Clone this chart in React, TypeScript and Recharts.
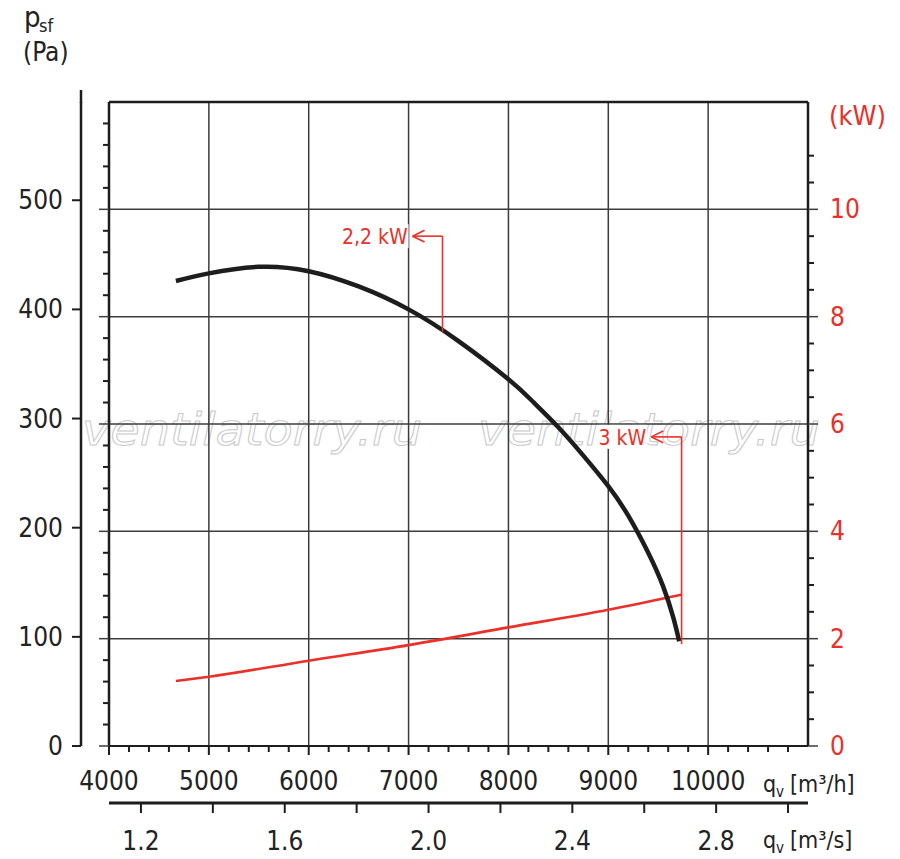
import {
  ComposedChart,
  Customized,
  Line,
  ReferenceDot,
  ReferenceLine,
  XAxis,
  YAxis,
} from 'recharts'

const FONT = '"DejaVu Sans Condensed", "DejaVu Sans", sans-serif'
const INK = '#1d1d1d'
const GRID = '#3c3c3c'
const RED = '#ea3028'

// fan curve, static pressure [Pa] over airflow [m3/h]
const pressureFlow = [
  4670, 5000, 5500, 6000, 6500, 7000, 7500, 8000, 8250, 8500, 8750, 9000, 9200, 9400, 9550, 9650, 9710,
]
const pressurePa = [426, 433, 439, 435, 421, 400, 371, 336, 315, 292, 266, 238, 211, 177, 146, 118, 96]

// absorbed power [kW]
const powerFlow = [4670, 5000, 6000, 7000, 8000, 9000, 9730]
const powerKw = [1.21, 1.29, 1.59, 1.88, 2.21, 2.54, 2.82]

// axes
const flowTicks = [
  4000, 4200, 4400, 4600, 4800, 5000, 5200, 5400, 5600, 5800, 6000, 6200, 6400, 6600, 6800,
  7000, 7200, 7400, 7600, 7800, 8000, 8200, 8400, 8600, 8800, 9000, 9200, 9400, 9600, 9800,
  10000, 10200, 10400, 10600, 10800,
]
const flowLabels = [4000, 5000, 6000, 7000, 8000, 9000, 10000]
const flowGrid = [5000, 6000, 7000, 8000, 9000, 10000]
const flowSecTicks = [1.2, 1.4, 1.6, 1.8, 2.0, 2.2, 2.4, 2.6, 2.8, 3.0]
const flowSecLabels = [1.2, 1.6, 2.0, 2.4, 2.8]
const paTicks = [0, 100, 200, 300, 400, 500]
const kwTicks = [
  0, 0.5, 1, 1.5, 2, 2.5, 3, 3.5, 4, 4.5, 5, 5.5, 6, 6.5, 7, 7.5, 8, 8.5, 9, 9.5, 10, 10.5, 11,
]
const kwLabels = [0, 2, 4, 6, 8, 10]
const kwInnerTicks = [
  0, 0.4, 0.8, 1.2, 1.6, 2, 2.4, 2.8, 3.2, 3.6, 4, 4.4, 4.8, 5.2, 5.6, 6, 6.4, 6.8, 7.2, 7.6,
  8, 8.4, 8.8, 9.2, 9.6, 10, 10.4, 10.8, 11.2, 11.6,
]
const kwGrid = [2, 4, 6, 8, 10]

// power rating marks: label, arrow tip flow, bend flow, level [kW], foot [kW]
const ratingNames = ['2,2 kW', '3 kW']
const ratingTip = [7040, 9430]
const ratingBend = [7340, 9734]
const ratingLevel = [9.5, 5.76]
const ratingFoot = [7.72, 1.9]

const M3H_PER_M3S = 3600

const pressureData = pressureFlow.map((q, i) => ({ q, s: q / M3H_PER_M3S, p: pressurePa[i] }))
const powerData = powerFlow.map((q, i) => ({ q, kw: powerKw[i] }))

const near = (a: number, b: number) => Math.abs(a - b) < 1e-6

function PaTick({ x, y, payload }: any) {
  return (
    <g>
      <line x1={x - 9} x2={x} y1={y} y2={y} stroke={INK} strokeWidth={2} />
      <text x={x - 18} y={y} textAnchor="end" dominantBaseline="central" fontFamily={FONT} fontSize={26} fill="#222">
        {payload.value}
      </text>
    </g>
  )
}

function InnerTick({ x, y, payload }: any) {
  const major = kwGrid.some((v) => near(v, payload.value)) || payload.value === 0
  return <line x1={x - (major ? 10 : 6)} x2={x} y1={y} y2={y} stroke={major ? GRID : INK} strokeWidth={major ? 1.5 : 2} />
}

function KwTick({ x, y, payload }: any) {
  const label = kwLabels.some((v) => near(v, payload.value))
  return (
    <g>
      <line x1={x} x2={x + (label ? 10 : 6)} y1={y} y2={y} stroke={label ? GRID : INK} strokeWidth={label ? 1.5 : 2} />
      {label && (
        <text x={x + 22} y={y} dominantBaseline="central" fontFamily={FONT} fontSize={26} fill={RED}>
          {payload.value}
        </text>
      )}
    </g>
  )
}

function FlowTick({ x, y, payload }: any) {
  const label = flowLabels.includes(payload.value)
  return (
    <g>
      <line x1={x} x2={x} y1={y} y2={y + (label ? 9 : 6)} stroke={INK} strokeWidth={2} />
      {label && (
        <text x={x} y={y + 35} textAnchor="middle" dominantBaseline="central" fontFamily={FONT} fontSize={26} fill="#222">
          {payload.value}
        </text>
      )}
    </g>
  )
}

function FlowSecTick({ x, y, payload }: any) {
  const label = flowSecLabels.some((v) => near(v, payload.value))
  return (
    <g>
      <line x1={x} x2={x} y1={y} y2={y + 10} stroke={INK} strokeWidth={2} />
      {label && (
        <text x={x} y={y + 38} textAnchor="middle" dominantBaseline="central" fontFamily={FONT} fontSize={26} fill="#222">
          {payload.value.toFixed(1)}
        </text>
      )}
    </g>
  )
}

function RatingLabel({ cx, cy, text }: any) {
  const w = text.length * 11.5
  return (
    <g>
      <rect x={cx - w - 6} y={cy - 12} width={w + 2} height={24} fill="#fff" />
      <text x={cx - 5} y={cy + 1} textAnchor="end" dominantBaseline="central" fontFamily={FONT} fontSize={21} fill={RED}>
        {text}
      </text>
    </g>
  )
}

function Titles() {
  const wm = {
    fontFamily: '"DejaVu Sans", sans-serif',
    fontStyle: 'italic' as const,
    fontSize: 45,
    fill: 'none',
    stroke: '#c9c9c9',
    strokeWidth: 1,
  }
  return (
    <g>
      <line x1={81} x2={81} y1={90} y2={103} stroke={INK} strokeWidth={2.5} />
      <text x={82} y={445} textLength={340} lengthAdjust="spacingAndGlyphs" {...wm}>ventilatorry.ru</text>
      <text x={478} y={445} textLength={342} lengthAdjust="spacingAndGlyphs" {...wm}>ventilatorry.ru</text>
      <text x={24} y={27} fontFamily={FONT} fontSize={29} fill="#222">p</text>
      <text x={39} y={32} fontFamily={FONT} fontSize={18} fill="#222">sf</text>
      <text x={23} y={61} fontFamily={FONT} fontSize={26} fill="#222">(Pa)</text>
      <text x={829} y={125} fontFamily={FONT} fontSize={27} fill={RED}>(kW)</text>
      <text x={763} y={792} fontFamily={FONT} fontSize={23} fill="#222">q</text>
      <text x={776} y={797} fontFamily={FONT} fontSize={15} fill="#222">v</text>
      <text x={790} y={792} fontFamily={FONT} fontSize={23} fill="#222">[m³/h]</text>
      <text x={763} y={848} fontFamily={FONT} fontSize={23} fill="#222">q</text>
      <text x={776} y={853} fontFamily={FONT} fontSize={15} fill="#222">v</text>
      <text x={790} y={848} fontFamily={FONT} fontSize={23} fill="#222">[m³/s]</text>
    </g>
  )
}

export default function App() {
  return (
    <div style={{ position: 'absolute', left: 0, top: 0, width: 900, height: 859, background: '#fff' }}>
      <ComposedChart width={900} height={859} margin={{ top: 102, right: 0, bottom: 0, left: 0 }}>
        <XAxis
          xAxisId="qh"
          type="number"
          dataKey="q"
          domain={[4000, 11000]}
          allowDataOverflow
          ticks={flowTicks}
          interval={0}
          height={57}
          tickSize={0}
          tickMargin={0}
          tick={<FlowTick />}
          axisLine={{ stroke: INK, strokeWidth: 2 }}
        />
        <XAxis
          xAxisId="qs"
          type="number"
          dataKey="s"
          domain={[4000 / M3H_PER_M3S, 11000 / M3H_PER_M3S]}
          allowDataOverflow
          ticks={flowSecTicks}
          interval={0}
          height={56}
          tickSize={0}
          tickMargin={0}
          tick={<FlowSecTick />}
          axisLine={{ stroke: INK, strokeWidth: 3 }}
        />
        <YAxis
          yAxisId="kwL"
          type="number"
          domain={[0, 12]}
          allowDataOverflow
          ticks={kwInnerTicks}
          interval={0}
          width={28}
          tickSize={0}
          tickMargin={0}
          tick={<InnerTick />}
          axisLine={{ stroke: INK, strokeWidth: 2.5 }}
        />
        <YAxis
          yAxisId="pa"
          type="number"
          domain={[0, 590]}
          allowDataOverflow
          ticks={paTicks}
          interval={0}
          width={81}
          tickSize={0}
          tickMargin={0}
          tick={<PaTick />}
          axisLine={{ stroke: INK, strokeWidth: 2.5 }}
        />
        <YAxis
          yAxisId="kw"
          orientation="right"
          type="number"
          domain={[0, 12]}
          allowDataOverflow
          ticks={kwTicks}
          interval={0}
          width={92}
          tickSize={0}
          tickMargin={0}
          tick={<KwTick />}
          axisLine={{ stroke: INK, strokeWidth: 2.5 }}
        />
        <Customized component={<Titles />} />
        {flowGrid.map((q) => (
          <ReferenceLine key={`v${q}`} xAxisId="qh" yAxisId="kw" x={q} stroke={GRID} strokeWidth={1.5} />
        ))}
        {kwGrid.map((v) => (
          <ReferenceLine key={`h${v}`} xAxisId="qh" yAxisId="kw" y={v} stroke={GRID} strokeWidth={1.5} />
        ))}
        <ReferenceLine xAxisId="qh" yAxisId="kw" y={12} stroke={INK} strokeWidth={2.5} />
        {ratingNames.map((name, i) => (
          <ReferenceDot
            key={name}
            xAxisId="qh"
            yAxisId="kw"
            x={ratingTip[i]}
            y={ratingLevel[i]}
            r={0}
            shape={(p: any) => <RatingLabel cx={p.cx} cy={p.cy} text={name} />}
          />
        ))}
        {/* same pressure curve in m3/s, not drawn: it only gives the lower axis its ticks */}
        <Line
          xAxisId="qs"
          yAxisId="pa"
          data={pressureData}
          dataKey="p"
          stroke="none"
          dot={false}
          activeDot={false}
          isAnimationActive={false}
        />
        <Line
          xAxisId="qh"
          yAxisId="kw"
          data={powerData}
          dataKey="kw"
          type="monotone"
          stroke={RED}
          strokeWidth={2.6}
          dot={false}
          isAnimationActive={false}
        />
        <Line
          xAxisId="qh"
          yAxisId="pa"
          data={pressureData}
          dataKey="p"
          type="natural"
          stroke={INK}
          strokeWidth={4.5}
          dot={false}
          isAnimationActive={false}
        />
        {ratingNames.map((name, i) => (
          <ReferenceLine
            key={`a${name}`}
            xAxisId="qh"
            yAxisId="kw"
            segment={[
              { x: ratingBend[i], y: ratingFoot[i] },
              { x: ratingBend[i], y: ratingLevel[i] },
            ]}
            stroke={RED}
            strokeWidth={1.6}
          />
        ))}
        {ratingNames.map((name, i) => (
          <ReferenceLine
            key={`b${name}`}
            xAxisId="qh"
            yAxisId="kw"
            segment={[
              { x: ratingBend[i], y: ratingLevel[i] },
              { x: ratingTip[i], y: ratingLevel[i] },
            ]}
            stroke={RED}
            strokeWidth={1.6}
          />
        ))}
        {ratingNames.map((name, i) => (
          <ReferenceLine
            key={`c${name}`}
            xAxisId="qh"
            yAxisId="kw"
            segment={[
              { x: ratingTip[i] + 120, y: ratingLevel[i] + 0.11 },
              { x: ratingTip[i], y: ratingLevel[i] },
            ]}
            stroke={RED}
            strokeWidth={1.6}
          />
        ))}
        {ratingNames.map((name, i) => (
          <ReferenceLine
            key={`d${name}`}
            xAxisId="qh"
            yAxisId="kw"
            segment={[
              { x: ratingTip[i] + 120, y: ratingLevel[i] - 0.11 },
              { x: ratingTip[i], y: ratingLevel[i] },
            ]}
            stroke={RED}
            strokeWidth={1.6}
          />
        ))}
      </ComposedChart>
    </div>
  )
}
